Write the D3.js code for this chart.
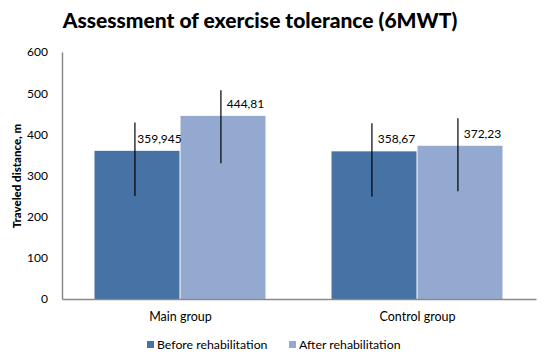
<!DOCTYPE html>
<html>
<head>
<meta charset="utf-8">
<script src="https://cdn.jsdelivr.net/npm/d3@7"></script>
<style>
  body { margin: 0; background: #fff; }
  text { font-family: Lato, "Open Sans", sans-serif; fill: #000; }
</style>
</head>
<body>
<div id="chart"></div>
<script>
// data
var groups = ['Main group', 'Control group'];
var series = ['Before rehabilitation', 'After rehabilitation'];
var values = [[359.945, 444.81], [358.67, 372.23]];
var labels = [['359,945', '444,81'], ['358,67', '372,23']];
var errHigh = [[429, 507], [427, 439]];
var errLow = [[250, 330], [249, 262]];
var yTicks = [0, 100, 200, 300, 400, 500, 600];

var colors = ['#4672a6', '#94a9cf'];

var width = 544, height = 354;
var margin = {top: 52, right: 8, bottom: 55, left: 62};

var svg = d3.select('#chart').append('svg')
    .attr('width', width)
    .attr('height', height);

var x0 = d3.scaleBand()
    .domain(groups)
    .range([margin.left, width - margin.right]);

var x1 = d3.scaleBand()
    .domain(series)
    .range([0, x0.bandwidth()])
    .paddingOuter(0.378);

var y = d3.scaleLinear()
    .domain([0, 600])
    .range([height - margin.bottom, margin.top]);

// title
svg.append('text')
    .attr('x', 260)
    .attr('y', 28)
    .attr('text-anchor', 'middle')
    .style('font-size', '21px')
    .style('font-weight', '900')
    .text('Assessment of exercise tolerance (6MWT)');

// y axis
var yAxis = d3.axisLeft(y)
    .tickValues(yTicks)
    .tickSize(0)
    .tickPadding(14);

svg.append('g')
    .attr('class', 'y axis')
    .attr('transform', 'translate(' + margin.left + ',0)')
    .call(yAxis)
    .call(g => g.select('.domain').attr('stroke', '#8a8a8a').attr('stroke-width', 1.5))
  .selectAll('text')
    .style('font-size', '12px');

svg.append('text')
    .attr('transform', 'translate(21,' + 176 + ') rotate(-90)')
    .attr('text-anchor', 'middle')
    .style('font-size', '11.5px')
    .style('font-weight', '900')
    .text('Traveled distance, m');

// bars
var rows = [];
groups.forEach((g, i) => {
  series.forEach((s, j) => {
    rows.push({group: g, series: s, value: values[i][j], label: labels[i][j],
      hi: errHigh[i][j], lo: errLow[i][j], color: colors[j]});
  });
});

var bars = svg.append('g').attr('class', 'bars');

bars.selectAll('rect')
    .data(rows)
  .enter().append('rect')
    .attr('x', d => x0(d.group) + x1(d.series))
    .attr('y', d => y(d.value))
    .attr('width', x1.bandwidth() - 1)
    .attr('height', d => y(0) - y(d.value))
    .attr('fill', d => d.color);

// x axis
svg.append('g')
    .attr('class', 'x axis')
    .attr('transform', 'translate(0,' + y(0) + ')')
    .call(d3.axisBottom(x0).tickSize(0).tickPadding(13))
    .call(g => g.select('.domain').attr('stroke', '#8a8a8a').attr('stroke-width', 1.5))
  .selectAll('text')
    .style('font-size', '12.5px');

// error bars
var errX = d => x0(d.group) + x1(d.series) + x1.bandwidth() * 0.47;

svg.append('g').selectAll('line')
    .data(rows)
  .enter().append('line')
    .attr('x1', errX)
    .attr('x2', errX)
    .attr('y1', d => y(d.hi))
    .attr('y2', d => y(d.lo))
    .attr('stroke', '#000')
    .attr('stroke-width', 1.2);

// value labels
svg.append('g').selectAll('text')
    .data(rows)
  .enter().append('text')
    .attr('x', d => x0(d.group) + x1(d.series) + x1.bandwidth() / 2 + 22)
    .attr('y', d => y(d.value) - 8)
    .attr('text-anchor', 'middle')
    .style('font-size', '12px')
    .text(d => d.label);

// legend
var legendX = [147, 289];
var legend = svg.append('g').attr('class', 'legend');
series.forEach((s, j) => {
  legend.append('rect')
    .attr('x', legendX[j])
    .attr('y', 341)
    .attr('width', 7)
    .attr('height', 7)
    .attr('fill', colors[j]);
  legend.append('text')
    .attr('x', legendX[j] + 10)
    .attr('y', 348.5)
    .style('font-size', '12.3px')
    .text(s);
});
</script>
</body>
</html>
